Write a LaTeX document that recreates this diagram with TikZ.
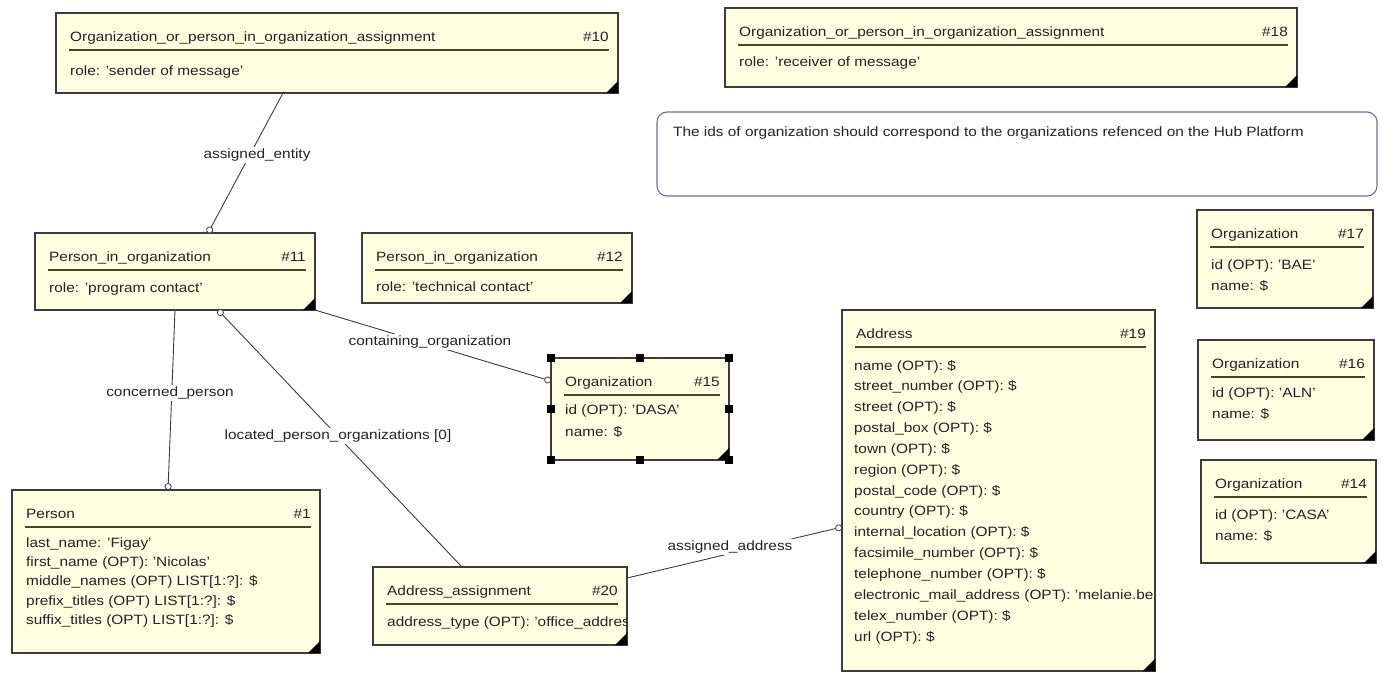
\documentclass[tikz,border=0pt]{standalone}
\usepackage{fontspec}
\setmainfont{Liberation Sans}[FakeStretch=1.14]
\usetikzlibrary{arrows.meta}

\definecolor{entfill}{RGB}{255,255,225}
\definecolor{entline}{RGB}{60,60,60}
\definecolor{ruleline}{RGB}{70,70,40}
\definecolor{notebd}{RGB}{110,110,165}
\definecolor{txt}{RGB}{35,35,35}

\newcommand{\dfont}{\fontsize{13.5}{16}\selectfont}

\tikzset{
  ebox/.style={draw=entline, line width=1.1pt, fill=entfill, anchor=north west,
    inner sep=0pt, outer sep=0pt},
  etext/.style={anchor=base west, inner sep=0pt, font=\dfont, text=txt},
  enum/.style={anchor=base east, inner sep=0pt, font=\dfont, text=txt},
  notebox/.style={draw=notebd, line width=1.1pt, fill=white, rounded corners=10pt,
    anchor=north west, inner sep=0pt, outer sep=0pt},
  conn/.style={draw=entline, line width=0.9pt},
  ctip/.style={-{Circle[open, length=7pt, width=7pt, fill=white, line width=0.8pt]}},
  lab/.style={fill=white, inner sep=1.5pt, font=\dfont, text=txt},
  handle/.style={fill=black, draw=none, minimum size=8pt, inner sep=0pt}
}

% entity box: name, x, y, width, height, title, number
\newcommand{\entity}[7]{%
  \node[ebox, minimum width=#4pt, minimum height=#5pt] (#1) at (#2,#3) {};
  \node[etext] (#1-title) at ([xshift=14pt, yshift=-28pt]#1.north west) {#6};
  \node[enum] (#1-num) at ([xshift=-9pt, yshift=-28pt]#1.north east) {#7};
  \draw[ruleline, line width=1.3pt]
    ([xshift=13pt, yshift=-37pt]#1.north west) -- ([xshift=-9pt, yshift=-37pt]#1.north east);
  \fill[black] (#1.south east) -- ++(-12pt,0pt) -- ++(12pt,12pt) -- cycle;
}
% attribute row: box, key, baseline offset from top, text
\newcommand{\erow}[4]{%
  \node[etext] (#1-#2) at ([xshift=14pt, yshift=-#3pt]#1.north west) {#4};
}

\begin{document}
\begin{tikzpicture}[x=1pt, y=-1pt]
\useasboundingbox (0,0) rectangle (1383,673);

% assignments
\entity{b10}{56}{13}{562}{80}{Organization\_or\_person\_in\_organization\_assignment}{\#10}
\erow{b10}{r1}{62}{role: 'sender of message'}
\entity{b18}{725}{8}{572}{79}{Organization\_or\_person\_in\_organization\_assignment}{\#18}
\erow{b18}{r1}{58}{role: 'receiver of message'}

% note
\node[notebox, minimum width=720pt, minimum height=84pt] (note) at (657,112) {};
\node[etext] (note-text) at (673,136)
  {The ids of organization should correspond to the organizations refenced on the Hub Platform};

% persons in organization
\entity{b11}{35}{233}{280}{77}{Person\_in\_organization}{\#11}
\erow{b11}{r1}{59}{role: 'program contact'}
\entity{b12}{362}{233}{270}{70}{Person\_in\_organization}{\#12}
\erow{b12}{r1}{58}{role: 'technical contact'}

% organization #15 (selected)
\entity{b15}{551}{358}{178}{102}{Organization}{\#15}
\erow{b15}{r1}{56}{id (OPT): 'DASA'}
\erow{b15}{r2}{78}{name: \$}
\foreach \a [count=\i] in {north west,north,north east,west,east,south west,south,south east}
  \node[handle] (b15-h\i) at (b15.\a) {};

% person
\entity{b1}{12}{490}{308}{163}{Person}{\#1}
\erow{b1}{r1}{57}{last\_name: 'Figay'}
\erow{b1}{r2}{76}{first\_name (OPT): 'Nicolas'}
\erow{b1}{r3}{95}{middle\_names (OPT) LIST[1:?]: \$}
\erow{b1}{r4}{115}{prefix\_titles (OPT) LIST[1:?]: \$}
\erow{b1}{r5}{134}{suffix\_titles (OPT) LIST[1:?]: \$}

% address assignment
\entity{b20}{373}{567}{254}{78}{Address\_assignment}{\#20}
\begin{scope}
  \clip ([xshift=1pt]b20.north west) rectangle ([xshift=-1pt]b20.south east);
  \erow{b20}{r1}{59}{address\_type (OPT): 'office\_address'}
\end{scope}

% address
\entity{b19}{842}{310}{313}{361}{Address}{\#19}
\begin{scope}
  \clip ([xshift=1pt]b19.north west) rectangle ([xshift=-1pt]b19.south east);
  \foreach \t [count=\i from 0] in {%
    name (OPT): \$,
    street\_number (OPT): \$,
    street (OPT): \$,
    postal\_box (OPT): \$,
    town (OPT): \$,
    region (OPT): \$,
    postal\_code (OPT): \$,
    country (OPT): \$,
    internal\_location (OPT): \$,
    facsimile\_number (OPT): \$,
    telephone\_number (OPT): \$,
    electronic\_mail\_address (OPT): 'melanie.be,
    telex\_number (OPT): \$,
    url (OPT): \$}
    \node[etext] (b19-r\i) at ([xshift=12pt, yshift={-(60+20.85*\i)*1pt}]b19.north west) {\t};
\end{scope}
\fill[black] (b19.south east) -- ++(-12pt,0pt) -- ++(12pt,12pt) -- cycle;

% organizations
\entity{b17}{1197}{210}{176}{98}{Organization}{\#17}
\erow{b17}{r1}{59}{id (OPT): 'BAE'}
\erow{b17}{r2}{80}{name: \$}
\entity{b16}{1198}{340}{176}{100}{Organization}{\#16}
\erow{b16}{r1}{57}{id (OPT): 'ALN'}
\erow{b16}{r2}{78}{name: \$}
\entity{b14}{1201}{460}{175}{103}{Organization}{\#14}
\erow{b14}{r1}{59}{id (OPT): 'CASA'}
\erow{b14}{r2}{80}{name: \$}

% relations
\draw[conn, ctip] ([xshift=227pt]b10.south west) -- ([xshift=173pt]b11.north west);
\draw[conn, ctip] (b11.south east) -- ([yshift=-23pt]b15.north west);
\draw[conn, ctip] ([xshift=140pt]b11.south west) -- ([xshift=156pt]b1.north west);
\draw[conn, ctip] ([xshift=89pt]b20.north west) -- ([xshift=183pt]b11.south west);
\draw[conn, ctip] ([yshift=-11pt]b20.north east) -- ([yshift=-217pt]b19.north west);

% relation labels
\node[lab] (l-entity) at (257,155) {assigned\_entity};
\node[lab] (l-org) at (430,342) {containing\_organization};
\node[lab] (l-person) at (170,393) {concerned\_person};
\node[lab] (l-located) at (338,436) {located\_person\_organizations [0]};
\node[lab] (l-address) at (730,547) {assigned\_address};
\end{tikzpicture}
\end{document}
